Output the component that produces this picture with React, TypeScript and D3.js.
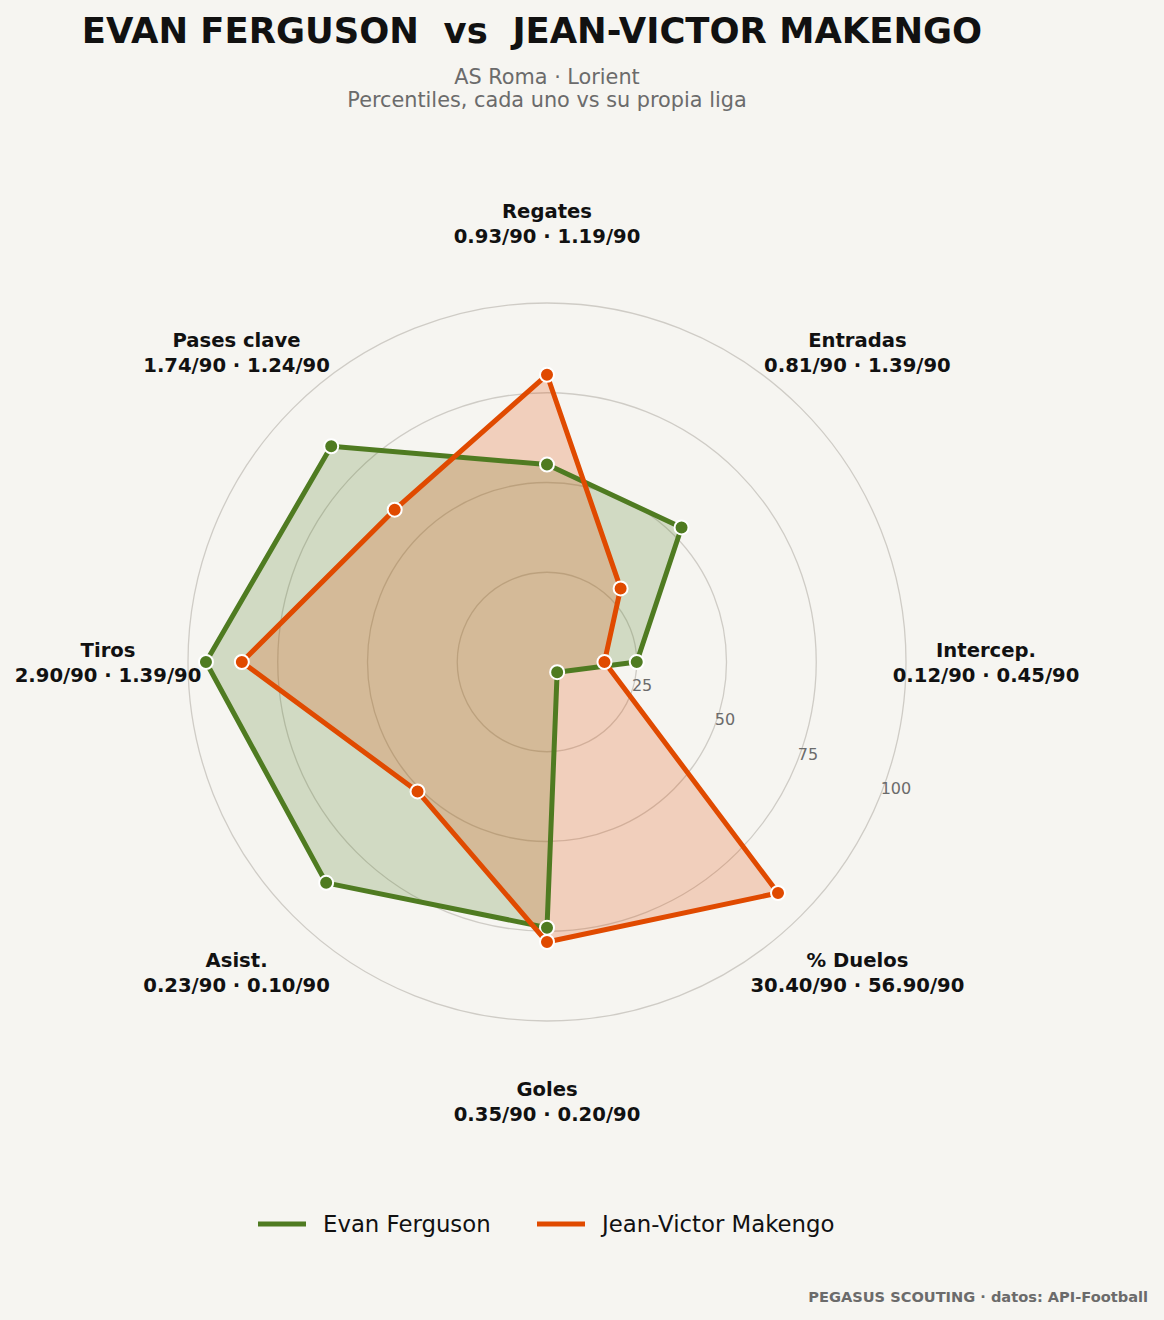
import React from "react";
import * as d3 from "d3";

const categories = ["Regates", "Entradas", "Intercep.", "% Duelos", "Goles", "Asist.", "Tiros", "Pases clave"];
const perLabels = [
  "0.93/90 · 1.19/90",
  "0.81/90 · 1.39/90",
  "0.12/90 · 0.45/90",
  "30.40/90 · 56.90/90",
  "0.35/90 · 0.20/90",
  "0.23/90 · 0.10/90",
  "2.90/90 · 1.39/90",
  "1.74/90 · 1.24/90",
];
const fergusonValues = [55, 53, 25, 4, 74, 87, 95, 85];
const makengoValues = [80, 29, 16, 91, 78, 51, 85, 60];
const rTicks = [25, 50, 75, 100];
const seriesNames = ["Evan Ferguson", "Jean-Victor Makengo"];
const seriesColors = ["#4f7b21", "#e04a00"];

const W = 1164;
const H = 1320;
const CX = 547;
const CY = 662;
const R = 359;
const FONT = "'DejaVu Sans', sans-serif";

export default function App() {
  const r = d3.scaleLinear().domain([0, 100]).range([0, R]);
  const angle = d3
    .scaleLinear()
    .domain([0, categories.length])
    .range([0, 2 * Math.PI]);

  const pt = (i: number, v: number): [number, number] => {
    const a = angle(i);
    return [CX + r(v) * Math.sin(a), CY - r(v) * Math.cos(a)];
  };

  const line = d3
    .lineRadial<number>()
    .angle((_, i) => angle(i))
    .radius((d) => r(d))
    .curve(d3.curveLinearClosed);

  const series = [fergusonValues, makengoValues];

  const labelR = 439;
  const tickAng = (112.5 * Math.PI) / 180;

  return (
    <svg
      width={W}
      height={H}
      style={{ position: "absolute", left: 0, top: 0, background: "#f6f5f1" }}
      fontFamily={FONT}
    >
      <rect x={0} y={0} width={W} height={H} fill="#f6f5f1" />
      <text x={532} y={43} textAnchor="middle" fontSize={35.4} fontWeight="bold" fill="#111">
        EVAN FERGUSON{"\u00a0\u00a0"}vs{"\u00a0\u00a0"}JEAN-VICTOR MAKENGO
      </text>
      <text x={547} y={84} textAnchor="middle" fontSize={20.8} fill="#6b6b6b">
        AS Roma · Lorient
      </text>
      <text x={547} y={107} textAnchor="middle" fontSize={20.8} fill="#6b6b6b">
        Percentiles, cada uno vs su propia liga
      </text>

      {rTicks.map((t) => (
        <circle key={t} cx={CX} cy={CY} r={r(t)} fill="none" stroke="#cfccc6" strokeWidth={1.3} />
      ))}

      {series.map((vals, s) => (
        <g key={s} transform={`translate(${CX},${CY})`}>
          <path
            d={line(vals) || ""}
            fill={seriesColors[s]}
            fillOpacity={0.22}
            stroke="none"
          />
        </g>
      ))}
      {series.map((vals, s) => (
        <g key={"l" + s}>
          <path
            transform={`translate(${CX},${CY})`}
            d={line(vals) || ""}
            fill="none"
            stroke={seriesColors[s]}
            strokeWidth={5}
            strokeLinejoin="round"
          />
          {vals.map((v, i) => {
            const [x, y] = pt(i, v);
            return (
              <circle key={i} cx={x} cy={y} r={7} fill={seriesColors[s]} stroke="#fff" strokeWidth={2} />
            );
          })}
        </g>
      ))}

      {rTicks.map((t) => {
        const rr = r(t);
        const x = CX + rr * Math.sin(tickAng);
        const y = CY - rr * Math.cos(tickAng);
        return (
          <text key={t} x={x + 2} y={y - 10} textAnchor="start" dominantBaseline="middle" fontSize={16} fill="#6b6b6b">
            {t}
          </text>
        );
      })}

      {categories.map((c, i) => {
        const a = angle(i);
        const x = CX + labelR * Math.sin(a);
        const y = CY - labelR * Math.cos(a);
        return (
          <g key={c}>
            <text x={x} y={y - 5} textAnchor="middle" fontSize={19.6} fontWeight="bold" fill="#111">
              {c}
            </text>
            <text x={x} y={y + 20} textAnchor="middle" fontSize={19.6} fontWeight="bold" fill="#111">
              {perLabels[i]}
            </text>
          </g>
        );
      })}

      {seriesNames.map((n, i) => {
        const x0 = [258, 537][i];
        return (
          <g key={n}>
            <line x1={x0} x2={x0 + 48} y1={1224} y2={1224} stroke={seriesColors[i]} strokeWidth={5} />
            <text x={x0 + 65} y={1232} fontSize={22.8} fill="#111">
              {n}
            </text>
          </g>
        );
      })}

      <text x={1148} y={1302} textAnchor="end" fontSize={14.6} fontWeight="bold" fill="#6b6b6b">
        PEGASUS SCOUTING · datos: API-Football
      </text>
    </svg>
  );
}
